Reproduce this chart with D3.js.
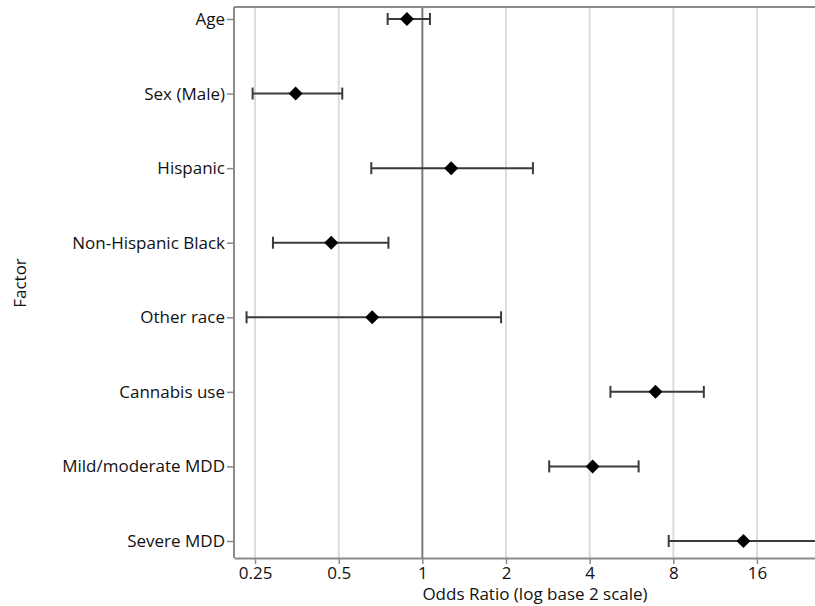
<!DOCTYPE html>
<html>
<head>
<meta charset="utf-8">
<script src="https://cdn.jsdelivr.net/npm/d3@7"></script>
<style>
body { margin: 0; background: #fff; }
text { font-family: "Open Sans", "Noto Sans", sans-serif; fill: #111; }
</style>
</head>
<body>
<div id="chart"></div>
<script>
const factors = ["Age", "Sex (Male)", "Hispanic", "Non-Hispanic Black", "Other race",
                 "Cannabis use", "Mild/moderate MDD", "Severe MDD"];
const oddsRatio = [0.88, 0.35, 1.27, 0.47, 0.66, 6.9, 4.1, 14.3];
const lowerCI   = [0.75, 0.245, 0.655, 0.29, 0.233, 4.75, 2.86, 7.7];
const upperCI   = [1.065, 0.515, 2.5, 0.755, 1.92, 10.3, 6.0, 30];
const xTicks = [0.25, 0.5, 1, 2, 4, 8, 16];

const W = 815, H = 606;
const pLeft = 234, pTop = 7, pRight = 830, pBottom = 558;

let svg = d3.select("#chart").append("svg")
  .attr("width", W).attr("height", H);

let x = d3.scaleLog().base(2)
  .domain([0.21, 29.3])
  .range([pLeft, pRight]);

let y = d3.scalePoint()
  .domain(factors)
  .range([19, 541]);

let rows = factors.map((f, i) => ({f: f, or: oddsRatio[i], lo: lowerCI[i], hi: upperCI[i]}));

svg.append("defs").append("clipPath").attr("id", "plot")
  .append("rect").attr("x", pLeft).attr("y", pTop)
  .attr("width", pRight - pLeft).attr("height", pBottom - pTop);

// grid
svg.selectAll(".grid")
  .data(xTicks.filter(d => d !== 1))
  .enter().append("line")
  .attr("x1", d => x(d)).attr("x2", d => x(d))
  .attr("y1", pTop).attr("y2", pBottom)
  .attr("stroke", "#dcdcdc").style("stroke-width", 2);

// reference line at 1
svg.append("line")
  .attr("x1", x(1)).attr("x2", x(1))
  .attr("y1", pTop).attr("y2", pBottom)
  .attr("stroke", "#7a7a7a").style("stroke-width", 2);

let g = svg.append("g").attr("clip-path", "url(#plot)");

g.selectAll(".ci")
  .data(rows).enter().append("line")
  .attr("x1", d => x(d.lo)).attr("x2", d => x(d.hi))
  .attr("y1", d => y(d.f)).attr("y2", d => y(d.f))
  .attr("stroke", "#3a3a3a").style("stroke-width", 2);

g.selectAll(".capL")
  .data(rows).enter().append("line")
  .attr("x1", d => x(d.lo)).attr("x2", d => x(d.lo))
  .attr("y1", d => y(d.f) - 6).attr("y2", d => y(d.f) + 6)
  .attr("stroke", "#3a3a3a").style("stroke-width", 2);

g.selectAll(".capR")
  .data(rows).enter().append("line")
  .attr("x1", d => x(d.hi)).attr("x2", d => x(d.hi))
  .attr("y1", d => y(d.f) - 6).attr("y2", d => y(d.f) + 6)
  .attr("stroke", "#3a3a3a").style("stroke-width", 2);

g.selectAll(".pt")
  .data(rows).enter().append("path")
  .attr("d", "M0,-7L7,0L0,7L-7,0Z")
  .attr("transform", d => `translate(${x(d.or)},${y(d.f)})`)
  .attr("fill", "black");

// frame
svg.append("line")
  .attr("x1", pLeft).attr("x2", W).attr("y1", pTop).attr("y2", pTop)
  .attr("stroke", "#8a8a8a").style("stroke-width", 2);

let xAxis = svg.append("g")
  .attr("transform", `translate(0,${pBottom})`)
  .call(d3.axisBottom(x).tickValues(xTicks).tickFormat(d => d).tickSize(6).tickSizeOuter(0));

let yAxis = svg.append("g")
  .attr("transform", `translate(${pLeft},0)`)
  .call(d3.axisLeft(y).tickSize(7).tickSizeOuter(0));

yAxis.select(".domain").attr("d", `M0,${pTop}V${pBottom}`);

[xAxis, yAxis].forEach(a => {
  a.select(".domain").attr("stroke", "#8a8a8a").style("stroke-width", 2);
  a.selectAll(".tick line").attr("stroke", "#8a8a8a").style("stroke-width", 1.5);
  a.selectAll(".tick text").style("font-size", "17px").attr("fill", "#111");
});
xAxis.selectAll(".tick text").attr("dy", "0.7em");
yAxis.selectAll(".tick text").attr("x", -9);

svg.append("text")
  .attr("x", 535).attr("y", 600)
  .attr("text-anchor", "middle")
  .style("font-size", "17px")
  .text("Odds Ratio (log base 2 scale)");

svg.append("text")
  .attr("transform", "translate(26,283) rotate(-90)")
  .attr("text-anchor", "middle")
  .style("font-size", "17px")
  .text("Factor");
</script>
</body>
</html>
